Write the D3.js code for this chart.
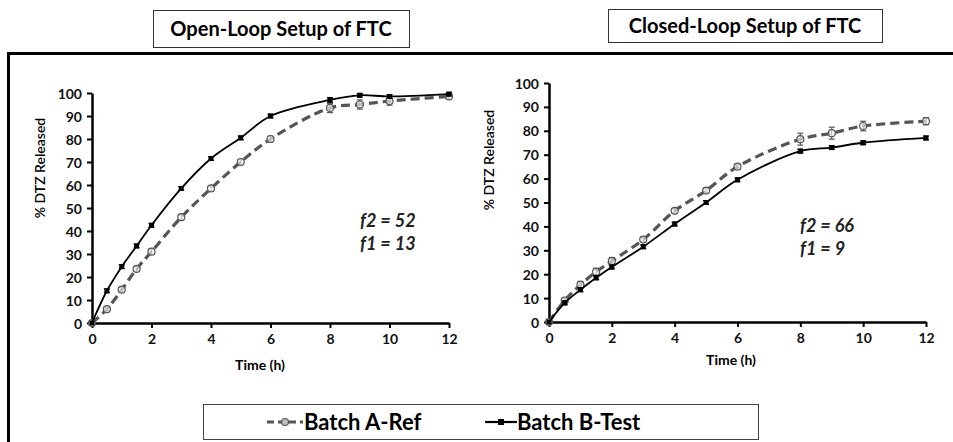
<!DOCTYPE html>
<html>
<head>
<meta charset="utf-8">
<script src="https://cdn.jsdelivr.net/npm/d3@7/dist/d3.min.js"></script>
<style>
  body { margin: 0; background: #fff; }
  svg { display: block; font-family: Lato, "Open Sans", sans-serif; }
</style>
</head>
<body>
<svg id="chart" width="953" height="442"></svg>
<script>
// Sampling times (h) shared by both setups.
const times = [0, 0.5, 1, 1.5, 2, 3, 4, 5, 6, 8, 9, 10, 12];

// Open-loop setup.
const openRef  = [0, 6, 14.5, 23.5, 31, 46, 58.5, 70, 80, 93.5, 95, 96.5, 98.5];
const openRefErr = [0, 0.8, 1, 1, 1.2, 1, 1.2, 1, 1.2, 2, 2, 1.8, 1.2];
const openTest = [0, 14, 24.5, 33.5, 42.5, 58.5, 71.5, 80.5, 90, 97, 99, 98.5, 99.5];
const openTestErr = [0, 0.8, 0.8, 0.8, 0.8, 0.8, 0.8, 0.8, 0.8, 1, 0.8, 0.8, 0.8];

// Closed-loop setup.
const closedRef  = [0, 9, 15.5, 21, 25.5, 34.5, 46.5, 55, 65, 76.5, 79, 82, 84];
const closedRefErr = [0, 1, 1.5, 1.5, 1.5, 1, 1, 1, 1, 2.5, 2.5, 2, 1.5];
const closedTest = [0, 8, 13.5, 18.5, 23, 31.5, 41, 50, 59.5, 71.5, 73, 75, 77];
const closedTestErr = [0, 0.8, 0.8, 0.8, 0.8, 0.8, 0.8, 0.8, 0.8, 0.8, 0.8, 0.8, 0.8];

const xTicks = [0, 2, 4, 6, 8, 10, 12];
const yTicks = [0, 10, 20, 30, 40, 50, 60, 70, 80, 90, 100];

const svg = d3.select("#chart");

// Outer frame (only the top and left edges are visible).
svg.append("line").attr("x1", 8).attr("x2", 953).attr("y1", 53.5).attr("y2", 53.5)
  .attr("stroke", "#000").attr("stroke-width", 3);
svg.append("line").attr("x1", 8.5).attr("x2", 8.5).attr("y1", 52).attr("y2", 442)
  .attr("stroke", "#000").attr("stroke-width", 3);

function titleBox(x, y, w, h, text) {
  svg.append("rect").attr("x", x + 0.5).attr("y", y + 0.5).attr("width", w).attr("height", h)
    .attr("fill", "#fff").attr("stroke", "#333").attr("stroke-width", 1);
  svg.append("text").attr("x", x + w / 2).attr("y", y + h / 2 + 7)
    .attr("text-anchor", "middle").attr("font-size", 20).attr("font-weight", 700)
    .text(text);
}

titleBox(153, 10, 256, 37, "Open-Loop Setup of FTC");
titleBox(608, 9, 274, 33, "Closed-Loop Setup of FTC");

function panel({ x0, x1, y0, y1, ref, refErr, test, testErr, f2, f1, annX, annY, ytX, ytY, xtX, xtY }) {
  const x = d3.scaleLinear().domain([0, 12]).range([x0, x1]);
  const y = d3.scaleLinear().domain([0, 100]).range([y0, y1]);
  const g = svg.append("g");

  // Axes.
  const ax = g.append("g").attr("transform", `translate(0,${y0})`)
    .call(d3.axisBottom(x).tickValues(xTicks).tickSize(5).tickSizeOuter(0).tickPadding(6));
  const ay = g.append("g").attr("transform", `translate(${x0},0)`)
    .call(d3.axisLeft(y).tickValues(yTicks).tickSize(5).tickSizeOuter(0).tickPadding(5));
  [ax, ay].forEach(a => {
    a.select(".domain").attr("stroke", "#000").attr("stroke-width", 2.5);
    a.selectAll(".tick line").attr("stroke", "#000").attr("stroke-width", 2);
    a.selectAll(".tick text").attr("font-size", 14).attr("font-weight", 700)
      .attr("fill", "#111").attr("font-family", "Lato, sans-serif");
  });
  ay.selectAll(".tick text").attr("dy", "0.36em");

  // Axis titles.
  g.append("text").attr("transform", `translate(${ytX},${ytY}) rotate(-90)`)
    .attr("text-anchor", "middle").attr("font-size", 14).attr("font-weight", 600)
    .text("% DTZ Released");
  g.append("text").attr("x", xtX).attr("y", xtY).attr("text-anchor", "middle")
    .attr("font-size", 14).attr("font-weight", 700).text("Time (h)");

  const line = d3.line().curve(d3.curveCatmullRom.alpha(0.5))
    .x((d, i) => x(times[i])).y(d => y(d));

  function series(vals, errs, style) {
    // Error bars.
    const eb = g.append("g").attr("stroke", style.color).attr("stroke-width", 1.2);
    vals.forEach((v, i) => {
      if (!errs[i]) return;
      const cx = x(times[i]);
      eb.append("line").attr("x1", cx).attr("x2", cx).attr("y1", y(v - errs[i])).attr("y2", y(v + errs[i]));
      eb.append("line").attr("x1", cx - 3).attr("x2", cx + 3).attr("y1", y(v - errs[i])).attr("y2", y(v - errs[i]));
      eb.append("line").attr("x1", cx - 3).attr("x2", cx + 3).attr("y1", y(v + errs[i])).attr("y2", y(v + errs[i]));
    });
    g.append("path").datum(vals).attr("d", line).attr("fill", "none")
      .attr("stroke", style.color).attr("stroke-width", style.width)
      .attr("stroke-dasharray", style.dash || null);
    const m = g.append("g");
    vals.forEach((v, i) => {
      if (style.marker === "circle") {
        m.append("circle").attr("cx", x(times[i])).attr("cy", y(v)).attr("r", 3.5)
          .attr("fill", "#fff").attr("fill-opacity", 0.6).attr("stroke", "#555").attr("stroke-width", 1.2);
      } else {
        m.append("rect").attr("x", x(times[i]) - 2.5).attr("y", y(v) - 2.5)
          .attr("width", 5).attr("height", 5).attr("fill", "#000");
      }
    });
  }

  series(ref, refErr, { color: "#555", width: 3.2, dash: "9,5", marker: "circle" });
  series(test, testErr, { color: "#000", width: 1.8, marker: "square" });

  // Similarity factors.
  const ann = g.append("text").attr("font-size", 18).attr("font-weight", 700)
    .attr("font-style", "italic").attr("fill", "#222");
  ann.append("tspan").attr("x", annX).attr("y", annY).text(`f2 = ${f2}`);
  ann.append("tspan").attr("x", annX).attr("y", annY + 23).text(`f1 = ${f1}`);
}

panel({ x0: 92, x1: 449, y0: 323, y1: 93, ref: openRef, refErr: openRefErr,
  test: openTest, testErr: openTestErr, f2: 52, f1: 13, annX: 360, annY: 227,
  ytX: 45, ytY: 168, xtX: 260, xtY: 370 });

panel({ x0: 549, x1: 926, y0: 322, y1: 83, ref: closedRef, refErr: closedRefErr,
  test: closedTest, testErr: closedTestErr, f2: 66, f1: 9, annX: 800, annY: 232,
  ytX: 494, ytY: 160, xtX: 731, xtY: 365 });

// Legend.
const lg = svg.append("g");
lg.append("rect").attr("x", 203.5).attr("y", 404.5).attr("width", 555).attr("height", 35)
  .attr("fill", "#fff").attr("stroke", "#444").attr("stroke-width", 1);
lg.append("line").attr("x1", 267).attr("x2", 303).attr("y1", 422).attr("y2", 422)
  .attr("stroke", "#555").attr("stroke-width", 3.2).attr("stroke-dasharray", "7,4");
lg.append("circle").attr("cx", 285).attr("cy", 422).attr("r", 3.5)
  .attr("fill", "#bbb").attr("stroke", "#555").attr("stroke-width", 1.2);
lg.append("text").attr("x", 304).attr("y", 430).attr("font-size", 22).attr("font-weight", 700)
  .text("Batch A-Ref");
lg.append("line").attr("x1", 485).attr("x2", 517).attr("y1", 422).attr("y2", 422)
  .attr("stroke", "#000").attr("stroke-width", 2.2);
lg.append("rect").attr("x", 498).attr("y", 419).attr("width", 6).attr("height", 6).attr("fill", "#000");
lg.append("text").attr("x", 517).attr("y", 430).attr("font-size", 22).attr("font-weight", 700)
  .text("Batch B-Test");
</script>
</body>
</html>
